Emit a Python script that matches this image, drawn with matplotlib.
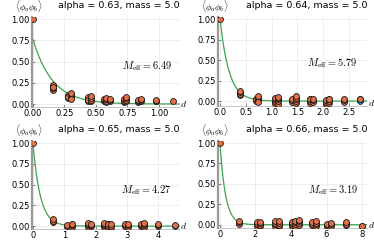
import matplotlib
matplotlib.use("Agg")
import matplotlib.pyplot as plt
import numpy as np

plt.rcParams['mathtext.fontset'] = 'cm'

alphas = [0.63, 0.64, 0.65, 0.66]
mass = 5.0
meff = [6.49, 5.79, 4.27, 3.19]
amp = [0.76, 1.0, 1.0, 1.0]

d_063 = [0, 0.155, 0.155, 0.155, 0.155, 0.155, 0.28, 0.28, 0.28, 0.28, 0.30, 0.30, 0.30, 0.30, 0.30,
         0.44, 0.44, 0.44, 0.44, 0.46, 0.46, 0.46, 0.46, 0.56, 0.56, 0.56, 0.58, 0.58, 0.58, 0.58,
         0.61, 0.61, 0.61, 0.72, 0.72, 0.72, 0.74, 0.74, 0.74, 0.74, 0.83, 0.83, 0.83, 0.86, 0.86, 0.86,
         0.98, 0.98, 0.98, 1.11]
v_063 = [1.0, 0.17, 0.19, 0.21, 0.23, 0.20, 0.07, 0.09, 0.11, 0.08, 0.08, 0.10, 0.12, 0.13, 0.06,
         0.04, 0.06, 0.08, 0.05, 0.03, 0.05, 0.07, 0.09, 0.03, 0.05, 0.06, 0.02, 0.04, 0.06, 0.07,
         0.03, 0.05, 0.06, 0.02, 0.04, 0.06, 0.03, 0.05, 0.07, 0.08, 0.02, 0.04, 0.05, 0.03, 0.05, 0.06,
         0.03, 0.04, 0.05, 0.03]

d_064 = [0, 0.39, 0.39, 0.39, 0.39, 0.69, 0.69, 0.69, 0.73, 0.73, 0.73, 0.73, 0.73,
         1.06, 1.06, 1.06, 1.06, 1.12, 1.12, 1.12, 1.12, 1.12, 1.40, 1.40, 1.40,
         1.48, 1.48, 1.48, 1.48, 1.48, 1.74, 1.74, 1.74, 1.74, 1.80, 1.80, 1.80,
         2.06, 2.06, 2.06, 2.12, 2.12, 2.12, 2.12, 2.40, 2.40, 2.40, 2.72, 2.72]
v_064 = [1.0, 0.07, 0.09, 0.11, 0.12, 0.0, 0.02, 0.03, 0.01, 0.03, 0.05, 0.06, -0.01,
         -0.02, 0.0, 0.02, 0.04, -0.03, 0.0, 0.02, 0.04, 0.05, -0.01, 0.01, 0.03,
         -0.02, 0.0, 0.02, 0.04, 0.06, -0.02, 0.0, 0.02, 0.03, -0.01, 0.01, 0.02,
         -0.03, -0.01, 0.01, -0.02, 0.0, 0.02, 0.03, -0.01, 0.01, 0.02, 0.02, 0.03]

d_065 = [0, 0.63, 0.63, 0.63, 1.08, 1.08, 1.25, 1.25, 1.25, 1.25, 1.75, 1.75, 1.75, 1.75,
         1.85, 1.85, 1.85, 2.28, 2.28, 2.28, 2.28, 2.40, 2.40, 2.40, 2.40, 2.50, 2.50, 2.50,
         2.93, 2.93, 2.93, 3.03, 3.03, 3.03, 3.45, 3.45, 3.45, 3.55, 3.55, 3.55, 3.55,
         4.0, 4.0, 4.0, 4.55]
v_065 = [1.0, 0.05, 0.06, 0.08, 0.0, 0.01, -0.01, 0.01, 0.02, 0.03, -0.01, 0.01, 0.02, 0.04,
         0.0, 0.01, 0.03, -0.01, 0.01, 0.02, 0.04, -0.02, 0.0, 0.02, 0.03, -0.01, 0.0, 0.02,
         0.0, 0.01, 0.02, -0.01, 0.01, 0.03, 0.0, 0.01, 0.03, -0.01, 0.01, 0.03, 0.04,
         0.0, 0.01, 0.02, 0.015]

d_066 = [0, 1.1, 1.1, 1.1, 2.1, 2.1, 2.1, 2.25, 2.25, 2.25, 2.25, 3.1, 3.1, 3.1, 3.1,
         3.3, 3.3, 3.3, 3.3, 4.05, 4.05, 4.05, 4.05, 4.25, 4.25, 4.25, 4.25, 4.45, 4.45, 4.45, 4.45,
         5.2, 5.2, 5.2, 5.4, 5.4, 5.4, 5.4, 6.0, 6.0, 6.0, 6.25, 6.25, 6.25, 7.1, 7.1, 7.1, 8.0]
v_066 = [1.0, 0.01, 0.03, 0.05, -0.01, 0.01, 0.03, -0.02, 0.0, 0.02, 0.03, -0.01, 0.01, 0.02, 0.04,
         -0.02, 0.0, 0.02, 0.04, -0.02, 0.0, 0.02, 0.03, -0.01, 0.01, 0.03, 0.05, 0.0, 0.02, 0.04, 0.06,
         0.0, 0.01, 0.03, -0.01, 0.01, 0.02, 0.04, -0.02, 0.0, 0.01, -0.01, 0.01, 0.02, 0.0, 0.01, 0.03, -0.01]

blue_d = [[], [2.72], [4.55], [8.0]]
blue_v = [[], [0.0], [0.005], [-0.015]]

data_d = [d_063, d_064, d_065, d_066]
data_v = [v_063, v_064, v_065, v_066]

xticks = [[0.0, 0.25, 0.5, 0.75, 1.0], [0.0, 0.5, 1.0, 1.5, 2.0, 2.5], [0, 1, 2, 3, 4], [0, 2, 4, 6, 8]]
xticklabels = [["0.00", "0.25", "0.50", "0.75", "1.00"], ["0.0", "0.5", "1.0", "1.5", "2.0", "2.5"],
               ["0", "1", "2", "3", "4"], ["0", "2", "4", "6", "8"]]
yticks = [0.0, 0.25, 0.5, 0.75, 1.0]
yticklabels = ["0.00", "0.25", "0.50", "0.75", "1.00"]

W, H = 374, 249
fig = plt.figure(figsize=(W / 100, H / 100), dpi=100)

# pixel boxes: left, right, top, bottom
boxes = [(32, 180, 17, 107), (218, 367, 17, 106), (32, 180, 141, 229), (218, 367, 141, 228)]
xlims = [(-0.008, 1.167), (-0.04, 2.85), (-0.03, 4.7), (-0.11, 8.28)]
ylims = [(-0.035, 1.025), (-0.06, 1.025), (-0.035, 1.025), (-0.04, 1.025)]
text_pos = [(172, 66), (357, 63), (171, 190), (358, 190)]
title_y = [6, 6, 129, 129]
ylab_y = [7, 7, 131, 131]

blue = '#009afa'
orange = '#e36f47'
green = '#3ea44e'

for i in range(4):
    l, r, t, b = boxes[i]
    ax = fig.add_axes([l / W, (H - b) / H, (r - l) / W, (b - t) / H])
    ax.set_xlim(*xlims[i])
    ax.set_ylim(*ylims[i])
    xs = np.linspace(0, xlims[i][1], 300)
    ax.plot(xs, amp[i] * np.exp(-meff[i] * xs), color=green, lw=0.9, zorder=2)
    if blue_d[i]:
        ax.scatter(blue_d[i], blue_v[i], s=18, color=blue, edgecolor='#1a1a1a', lw=0.5, zorder=3)
    ax.scatter(data_d[i], data_v[i], s=18, color=orange, edgecolor='#1a1a1a', lw=0.6, zorder=4)
    ax.set_xticks(xticks[i])
    ax.set_xticklabels(xticklabels[i])
    ax.set_yticks(yticks)
    ax.set_yticklabels(yticklabels)
    ax.tick_params(labelsize=6, length=2, width=0.5, color='#555555', pad=1.5, direction='in')
    ax.grid(True, color='#ebebeb', lw=0.6)
    ax.set_axisbelow(True)
    for s in ['top', 'right']:
        ax.spines[s].set_visible(False)
    ax.spines['left'].set_color('#999999')
    ax.spines['left'].set_linewidth(1.6)
    ax.spines['bottom'].set_color('#bbbbbb')
    ax.spines['bottom'].set_linewidth(0.6)
    fig.text(r / W, 1 - title_y[i] / H, f"alpha = {alphas[i]}, mass = {mass}", ha='right', va='center',
             fontsize=6.8)
    fig.text((l - 17) / W, 1 - ylab_y[i] / H, r'$\langle\phi_a\phi_b\rangle$', ha='left', va='center',
             fontsize=6.5)
    fig.text((r + 0.5) / W, 1 - (b - 3) / H, r'$d$', ha='left', va='center', fontsize=7)
    tx, tyy = text_pos[i]
    fig.text(tx / W, 1 - tyy / H, r'$M_{\mathrm{eff}} = %.2f$' % meff[i], ha='right', va='center',
             fontsize=7.5)

fig.savefig('out.png', dpi=100)
